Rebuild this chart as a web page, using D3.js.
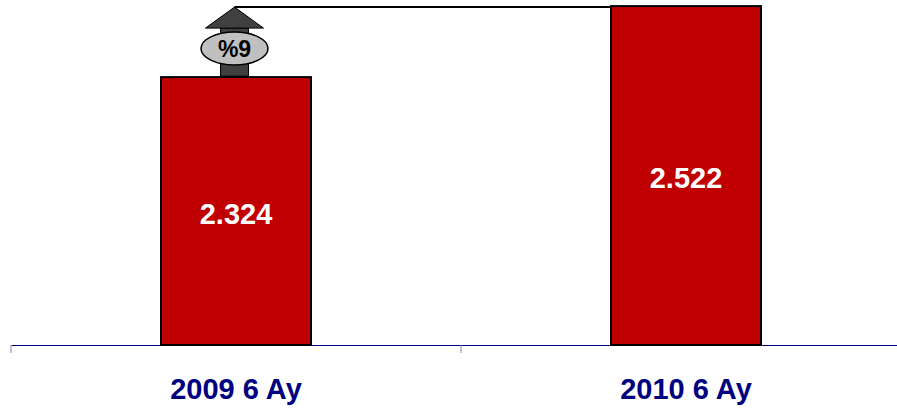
<!DOCTYPE html>
<html><head><meta charset="utf-8">
<script src="https://cdn.jsdelivr.net/npm/d3@7"></script>
<style>body{margin:0;background:#fff}svg{display:block}</style>
</head><body><svg id="c" width="897" height="409"></svg>
<script>
const categories = ["2009 6 Ay", "2010 6 Ay"];
const values = [2324, 2522];
const valueLabels = ["2.324", "2.522"];
const changeLabel = "%9";

const svg = d3.select("#c");
const axisY = 345;
const x = d3.scaleBand().domain(categories).range([11, 911]).paddingInner(0).paddingOuter(0);
const y = d3.scaleLinear().domain([1577, 2539]).range([axisY, 0]);
const bw = 150;
const font = "Liberation Sans, Arial, sans-serif";

// axis
const ax = svg.append("g").attr("transform", `translate(0,${axisY})`)
  .call(d3.axisBottom(x).tickSizeInner(0).tickSizeOuter(0).tickFormat(""));
ax.select(".domain").attr("stroke", "#000080").attr("stroke-width", 1.2);
ax.selectAll(".tick").remove();
const bounds = [x.range()[0], x(categories[1]), x.range()[1]];
svg.selectAll("line.sep").data(bounds).enter().append("line")
  .attr("x1", d => d).attr("x2", d => d)
  .attr("y1", axisY).attr("y2", axisY + 8)
  .attr("stroke", "#8080c0").attr("stroke-width", 1);

// bars
svg.selectAll("rect.bar").data(values).enter().append("rect")
  .attr("x", (d, i) => x(categories[i]) + x.bandwidth() / 2 - bw / 2)
  .attr("y", d => y(d))
  .attr("width", bw)
  .attr("height", d => axisY - y(d))
  .attr("fill", "#c00000").attr("stroke", "#000").attr("stroke-width", 2);

// value labels
svg.selectAll("text.val").data(values).enter().append("text")
  .attr("x", (d, i) => x(categories[i]) + x.bandwidth() / 2)
  .attr("y", d => (y(d) + axisY) / 2 + 12.5)
  .attr("text-anchor", "middle")
  .attr("font-family", font)
  .attr("font-weight", "bold").attr("font-size", 29).attr("fill", "#fff")
  .text((d, i) => valueLabels[i]);

// category labels
svg.selectAll("text.cat").data(categories).enter().append("text")
  .attr("x", d => x(d) + x.bandwidth() / 2)
  .attr("y", 399)
  .attr("text-anchor", "middle")
  .attr("font-family", font)
  .attr("font-weight", "bold").attr("font-size", 29).attr("fill", "#000080")
  .text(d => d);

// growth arrow
const cx = x(categories[0]) + x.bandwidth() / 2 - 1.5;
const tipY = y(values[1]) + 1;
const baseY = y(values[0]) - 1;
svg.append("line")
  .attr("x1", cx).attr("x2", x(categories[1]) + x.bandwidth() / 2 - bw / 2)
  .attr("y1", tipY).attr("y2", tipY)
  .attr("stroke", "#000").attr("stroke-width", 2);
svg.append("rect").attr("x", cx - 14).attr("y", tipY + 21).attr("width", 28).attr("height", baseY - tipY - 21)
  .attr("fill", "#404040").attr("stroke", "#000").attr("stroke-width", 1);
svg.append("path")
  .attr("d", `M${cx},${tipY} L${cx + 29},${tipY + 21} L${cx - 29},${tipY + 21} Z`)
  .attr("fill", "#404040").attr("stroke", "#000").attr("stroke-width", 1);
svg.append("ellipse").attr("cx", cx).attr("cy", 48.5).attr("rx", 33.5).attr("ry", 16.5)
  .attr("fill", "#c0c0c0").attr("stroke", "#000").attr("stroke-width", 1.5);
svg.append("text").attr("x", cx).attr("y", 57).attr("text-anchor", "middle")
  .attr("font-family", font)
  .attr("font-weight", "bold").attr("font-size", 23).attr("fill", "#000")
  .text(changeLabel);
</script></body></html>
